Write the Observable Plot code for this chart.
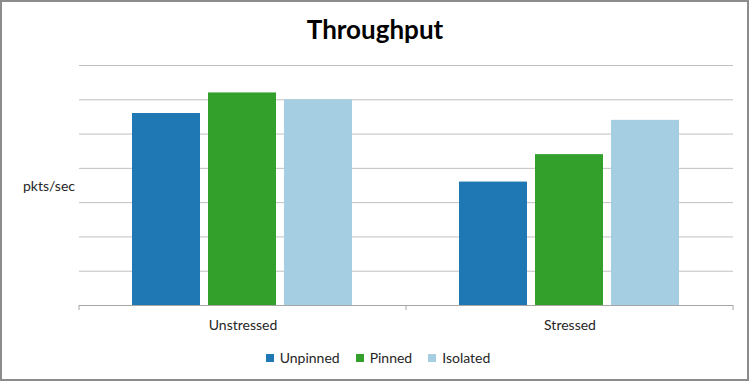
<!DOCTYPE html>
<html>
<head>
<meta charset="utf-8">
<script src="https://cdn.jsdelivr.net/npm/d3@7"></script>
<script src="https://cdn.jsdelivr.net/npm/@observablehq/plot@0.6"></script>
<style>
  html, body { margin: 0; padding: 0; background: #fff; }
  #chart { position: relative; width: 750px; height: 382px; overflow: hidden; background: #fff; font-family: Lato, "Open Sans", sans-serif; color: #262626; }
  #title { height: 50px; text-align: center; font-weight: bold; font-size: 26px; color: #000; line-height: 58px; }
  #ylabel { position: absolute; left: 23px; top: 177px; font-size: 14px; }
  #legend { display: flex; justify-content: center; align-items: center; height: 35px; font-size: 14px; padding-left: 6px; }
  .item { display: flex; align-items: center; margin: 0 8px; }
  .sw { width: 8px; height: 8px; margin-right: 6px; }
  #border { position: absolute; left: 0; top: 0; width: 749px; height: 381px; box-sizing: border-box; border: 2px solid #8c8c8c; pointer-events: none; }
  svg { display: block; }
</style>
</head>
<body>
<div id="chart">
  <div id="title">Throughput</div>
  <div id="ylabel">pkts/sec</div>
  <div id="plot"></div>
  <div id="legend"></div>
  <div id="border"></div>
</div>
<script>
const categories = ["Unstressed", "Stressed"];
const series = ["Unpinned", "Pinned", "Isolated"];
const unpinned = [5.6, 3.6];
const pinned = [6.2, 4.4];
const isolated = [6.0, 5.4];
const gridTicks = [1, 2, 3, 4, 5, 6, 7];
const colors = ["#1f78b4", "#33a02c", "#a6cee3"];

const valuesBySeries = [unpinned, pinned, isolated];
const rows = [];
categories.forEach((c, ci) => {
  series.forEach((s, si) => {
    rows.push({category: c, series: s, value: valuesBySeries[si][ci]});
  });
});

const plot = Plot.plot({
  width: 750,
  height: 290,
  marginTop: 15,
  marginBottom: 35,
  marginLeft: 79,
  marginRight: 17,
  style: {fontFamily: "Lato, 'Open Sans', sans-serif", fontSize: "14px", color: "#262626", background: "#fff"},
  fx: {domain: categories, padding: 0, label: null},
  x: {domain: series, paddingInner: 0.1, paddingOuter: 0.69, axis: null},
  y: {domain: [0, 7], axis: null},
  color: {domain: series, range: colors},
  marks: [
    Plot.gridY(gridTicks, {stroke: "#c0c0c0", strokeOpacity: 1}),
    Plot.barY(rows, {fx: "category", x: "series", y: "value", fill: "series"}),
    Plot.ruleY([0], {stroke: "#a6a6a6"}),
    Plot.axisFx({anchor: "bottom", tickSize: 0, tickPadding: 15, label: null, fontSize: 14})
  ]
});
document.getElementById("plot").appendChild(plot);

// category boundary ticks (Excel style), positioned through Plot's fx scale
const fx = plot.scale("fx");
const yS = plot.scale("y");
const bounds = [];
categories.forEach(c => { bounds.push(fx.apply(c)); });
bounds.push(fx.apply(categories[categories.length - 1]) + fx.bandwidth);
const y0 = yS.apply(0);
d3.select(plot).append("g")
  .selectAll("line").data(bounds).join("line")
  .attr("x1", d => d).attr("x2", d => d)
  .attr("y1", y0).attr("y2", y0 + 5)
  .attr("stroke", "#a6a6a6");

const legend = d3.select("#legend");
series.forEach((s, i) => {
  const it = legend.append("div").attr("class", "item");
  it.append("div").attr("class", "sw").style("background", colors[i]);
  it.append("span").text(s);
});
</script>
</body>
</html>
